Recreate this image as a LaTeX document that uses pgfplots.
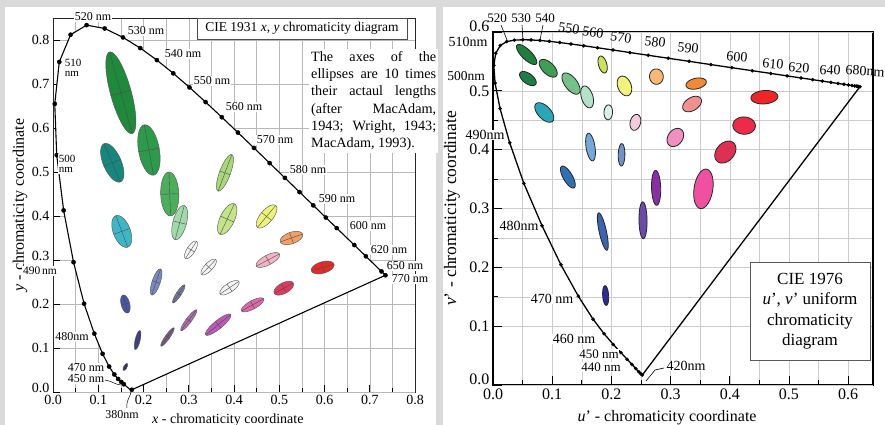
\documentclass[border=0pt]{standalone}
\usepackage{pgfplots}
\usepackage{pgfplotstable}
\pgfplotsset{compat=1.18}
\usepackage{fontspec}
\setmainfont{Liberation Serif}

\definecolor{bggray}{HTML}{DADADA}
% left panel ellipse colours
\definecolor{L1}{HTML}{252560}\definecolor{L2}{HTML}{3A3F88}\definecolor{L3}{HTML}{7E5A8C}
\definecolor{L4}{HTML}{1E8A3C}\definecolor{L5}{HTML}{16877E}\definecolor{L6}{HTML}{2B9A4A}
\definecolor{L7}{HTML}{4AAE5A}\definecolor{L8}{HTML}{3DB6C6}\definecolor{L9}{HTML}{A0DAAA}
\definecolor{L10}{HTML}{A8D878}\definecolor{L11}{HTML}{4656A6}\definecolor{L12}{HTML}{7A8AC0}
\definecolor{L13}{HTML}{F4F4F4}\definecolor{L14}{HTML}{C4E488}\definecolor{L15}{HTML}{EFF27A}
\definecolor{L16}{HTML}{F0A066}\definecolor{L17}{HTML}{F2B4C2}\definecolor{L18}{HTML}{E03A5C}
\definecolor{L19}{HTML}{E62A2A}\definecolor{L20}{HTML}{F4F4F4}\definecolor{L21}{HTML}{F4F4F4}
\definecolor{L22}{HTML}{E068A8}\definecolor{L23}{HTML}{747AA4}\definecolor{L24}{HTML}{B070B0}
\definecolor{L25}{HTML}{C058B8}
% right panel ellipse colours
\definecolor{R1}{HTML}{2A2A9A}\definecolor{R2}{HTML}{3C62B4}\definecolor{R3}{HTML}{6A4AAA}
\definecolor{R4}{HTML}{1F7F3F}\definecolor{R5}{HTML}{1F7D45}\definecolor{R6}{HTML}{3F9D55}
\definecolor{R7}{HTML}{74C28A}\definecolor{R8}{HTML}{2AA6B8}\definecolor{R9}{HTML}{B4E2C8}
\definecolor{R10}{HTML}{CFE05A}\definecolor{R11}{HTML}{2F70B4}\definecolor{R12}{HTML}{74A8D8}
\definecolor{R13}{HTML}{D6F0EA}\definecolor{R14}{HTML}{F2F27A}\definecolor{R15}{HTML}{F8B878}
\definecolor{R16}{HTML}{F08A36}\definecolor{R17}{HTML}{F29090}\definecolor{R18}{HTML}{EE2A48}
\definecolor{R19}{HTML}{F02424}\definecolor{R20}{HTML}{F2CCDC}\definecolor{R21}{HTML}{F090C0}
\definecolor{R22}{HTML}{E03052}\definecolor{R23}{HTML}{6C94C8}\definecolor{R24}{HTML}{8A2EA4}
\definecolor{R25}{HTML}{F050A0}

% CIE 1931 spectral locus (x, y)
\pgfplotstableread{
nm x y
380 0.1741 0.0050
390 0.1738 0.0049
400 0.1733 0.0048
410 0.1726 0.0048
420 0.1714 0.0051
430 0.1689 0.0069
440 0.1644 0.0109
445 0.1611 0.0138
450 0.1566 0.0177
455 0.1510 0.0227
460 0.1440 0.0297
465 0.1355 0.0399
470 0.1241 0.0578
475 0.1096 0.0868
480 0.0913 0.1327
485 0.0687 0.2007
490 0.0454 0.2950
495 0.0235 0.4127
500 0.0082 0.5384
505 0.0039 0.6548
510 0.0139 0.7502
515 0.0389 0.8120
520 0.0743 0.8338
525 0.1142 0.8262
530 0.1547 0.8059
535 0.1929 0.7816
540 0.2296 0.7543
545 0.2658 0.7243
550 0.3016 0.6923
555 0.3373 0.6589
560 0.3731 0.6245
565 0.4087 0.5896
570 0.4441 0.5547
575 0.4788 0.5202
580 0.5125 0.4866
585 0.5448 0.4544
590 0.5752 0.4242
595 0.6029 0.3965
600 0.6270 0.3725
605 0.6482 0.3514
610 0.6658 0.3340
620 0.6915 0.3083
630 0.7079 0.2920
640 0.7190 0.2809
650 0.7260 0.2740
660 0.7300 0.2700
680 0.7334 0.2666
770 0.7347 0.2653
}\locusL

\pgfplotstableread{
nm x y
380 0.1741 0.0050
450 0.1566 0.0177
455 0.1510 0.0227
460 0.1440 0.0297
465 0.1355 0.0399
470 0.1241 0.0578
475 0.1096 0.0868
480 0.0913 0.1327
485 0.0687 0.2007
490 0.0454 0.2950
495 0.0235 0.4127
500 0.0082 0.5384
505 0.0039 0.6548
510 0.0139 0.7502
515 0.0389 0.8120
520 0.0743 0.8338
525 0.1142 0.8262
530 0.1547 0.8059
535 0.1929 0.7816
540 0.2296 0.7543
545 0.2658 0.7243
550 0.3016 0.6923
555 0.3373 0.6589
560 0.3731 0.6245
565 0.4087 0.5896
570 0.4441 0.5547
575 0.4788 0.5202
580 0.5125 0.4866
585 0.5448 0.4544
590 0.5752 0.4242
595 0.6029 0.3965
600 0.6270 0.3725
610 0.6658 0.3340
620 0.6915 0.3083
650 0.7260 0.2740
770 0.7347 0.2653
}\marksL

% CIE 1976 spectral locus (u', v')
\pgfplotstableread{
nm u v
420 0.2522 0.0169
425 0.2496 0.0191
430 0.2461 0.0226
435 0.2411 0.0280
440 0.2347 0.0350
445 0.2266 0.0437
450 0.2161 0.0550
455 0.2033 0.0688
460 0.1877 0.0871
465 0.1690 0.1119
470 0.1441 0.1510
475 0.1147 0.2044
480 0.0828 0.2708
485 0.0521 0.3427
490 0.0282 0.4117
495 0.0119 0.4698
500 0.0035 0.5131
505 0.0014 0.5432
510 0.0046 0.5638
515 0.0123 0.5770
520 0.0231 0.5837
525 0.0360 0.5861
530 0.0501 0.5868
535 0.0643 0.5865
540 0.0792 0.5856
545 0.0953 0.5841
550 0.1127 0.5821
555 0.1319 0.5796
560 0.1531 0.5766
565 0.1766 0.5732
570 0.2026 0.5694
575 0.2312 0.5651
580 0.2623 0.5604
585 0.2960 0.5554
590 0.3315 0.5501
595 0.3681 0.5446
600 0.4035 0.5393
605 0.4379 0.5342
610 0.4692 0.5296
615 0.4968 0.5254
620 0.5203 0.5219
625 0.5399 0.5190
630 0.5565 0.5165
635 0.5709 0.5143
640 0.5830 0.5125
645 0.5929 0.5111
650 0.6005 0.5099
655 0.6064 0.5090
660 0.6109 0.5084
665 0.6138 0.5079
670 0.6162 0.5076
675 0.6180 0.5073
680 0.6199 0.5070
}\locusR

\pgfplotsset{
  ellfun/.style={declare function={
    ex(\ka,\kb,\kc,\kd,\ke)=\ka+0.01*(\kb*cos(\kd)*cos(\ke)-\kc*sin(\kd)*sin(\ke));
    ey(\ka,\kb,\kc,\kd,\ke)=\ka+0.01*(\kb*sin(\kd)*cos(\ke)+\kc*cos(\kd)*sin(\ke));
    uu(\ka,\kb)=4*\ka/(-2*\ka+12*\kb+3);
    vv(\ka,\kb)=9*\kb/(-2*\ka+12*\kb+3);
  }},
  ellL/.style={domain=0:360, samples=61, variable=\t, draw=black!65, line width=0.45pt},
  crossL/.style={domain=-1:1, samples=2, variable=\t, draw=black!70, line width=0.4pt},
  ellR/.style={domain=0:360, samples=61, variable=\t, draw=black!85, line width=0.8pt},
  numfmt/.style={/pgf/number format/.cd, fixed, fixed zerofill, precision=1, assume math mode=true, /pgfplots/.cd,
    xticklabel={\pgfmathprintnumber{\tick}}, yticklabel={\pgfmathprintnumber{\tick}}},
}
% x0, y0, a (1e-3), b (1e-3), theta (deg), colour
\newcommand{\ellXY}[6]{%
  \addplot[ellL, fill=#6] ({ex(#1,#3,#4,#5,\t)},{ey(#2,#3,#4,#5,\t)});
  \addplot[crossL] ({#1+0.01*#3*cos(#5)*\t},{#2+0.01*#3*sin(#5)*\t});
  \addplot[crossL] ({#1-0.01*#4*sin(#5)*\t},{#2+0.01*#4*cos(#5)*\t});
}
\newcommand{\ellUV}[6]{%
  \addplot[ellR, fill=#6] ({uu(ex(#1,#3,#4,#5,\t),ey(#2,#3,#4,#5,\t))},{vv(ex(#1,#3,#4,#5,\t),ey(#2,#3,#4,#5,\t))});
}

\begin{document}
\begin{tikzpicture}
\useasboundingbox (0pt,0pt) rectangle (885pt,425pt);
\fill[bggray] (0pt,0pt) rectangle (885pt,425pt);
\fill[white] (5pt,0pt) rectangle (436pt,418pt);
\fill[white] (443pt,0pt) rectangle (885pt,418pt);

% ---------------- left: CIE 1931 ----------------
\begin{axis}[ellfun, numfmt,
  at={(53pt,33pt)}, anchor=south west, scale only axis,
  width=362pt, height=374pt,
  xmin=0, xmax=0.8, ymin=0, ymax=0.85,
  xtick={0,0.1,0.2,0.3,0.4,0.5,0.6,0.7,0.8},
  ytick={0.1,0.2,0.4,0.5,0.6,0.7,0.8},
  extra y ticks={0,0.3},
  extra y tick style={grid=major, yticklabel style={yshift=4pt}},
  minor tick num=1,
  tick align=inside, xtick pos=bottom, ytick pos=left,
  major tick length=7pt, minor tick length=4pt,
  tick style={black, line width=0.6pt},
  grid=both,
  major grid style={black!28, line width=0.4pt},
  minor grid style={black!28, line width=0.4pt},
  axis line style={black!85, line width=0.8pt},
  tick label style={font=\fontsize{14}{16}\selectfont},
  xlabel={\textit{x} - chromaticity coordinate},
  ylabel={\textit{y} - chromaticity coordinate},
  xlabel style={at={(axis description cs:0.483,-0.074)}, anchor=center, font=\fontsize{14}{16}\selectfont},
  ylabel style={at={(axis description cs:-0.091,0.5)}, anchor=center, font=\fontsize{16}{18}\selectfont},
]
\addplot[fill=white, draw=none] table[x=x, y=y] {\locusL} -- cycle;
\ellXY{0.160}{0.057}{0.85}{0.35}{62.5}{L1}
\ellXY{0.187}{0.118}{2.2}{0.55}{77.0}{L2}
\ellXY{0.253}{0.125}{2.5}{0.50}{55.5}{L3}
\ellXY{0.150}{0.680}{9.6}{2.3}{105.0}{L4}
\ellXY{0.131}{0.521}{4.7}{2.0}{112.5}{L5}
\ellXY{0.212}{0.550}{5.8}{2.3}{100.0}{L6}
\ellXY{0.258}{0.450}{5.0}{2.0}{92.0}{L7}
\ellXY{0.152}{0.365}{3.8}{1.9}{110.0}{L8}
\ellXY{0.280}{0.385}{4.0}{1.5}{75.5}{L9}
\ellXY{0.380}{0.498}{4.4}{1.2}{70.0}{L10}
\ellXY{0.160}{0.200}{2.1}{0.95}{104.0}{L11}
\ellXY{0.228}{0.250}{3.1}{0.90}{72.0}{L12}
\ellXY{0.305}{0.323}{2.3}{0.90}{58.0}{L13}
\ellXY{0.385}{0.393}{3.8}{1.6}{65.5}{L14}
\ellXY{0.472}{0.399}{3.2}{1.4}{51.0}{L15}
\ellXY{0.527}{0.350}{2.6}{1.3}{20.0}{L16}
\ellXY{0.475}{0.300}{2.9}{1.1}{28.5}{L17}
\ellXY{0.510}{0.236}{2.4}{1.2}{29.5}{L18}
\ellXY{0.596}{0.283}{2.6}{1.3}{17.0}{L19}
\ellXY{0.344}{0.284}{2.3}{0.90}{47.0}{L20}
\ellXY{0.390}{0.237}{2.5}{1.0}{34.5}{L21}
\ellXY{0.441}{0.198}{2.8}{0.95}{29.5}{L22}
\ellXY{0.278}{0.223}{2.4}{0.55}{57.5}{L23}
\ellXY{0.300}{0.163}{2.9}{0.60}{54.0}{L24}
\ellXY{0.365}{0.153}{3.6}{0.95}{40.0}{L25}
\addplot[black, line width=1.1pt] table[x=x, y=y] {\locusL} -- cycle;
\addplot[only marks, mark=*, mark size=2.1pt, black] table[x=x, y=y] {\marksL};
\end{axis}

% ---------------- right: CIE 1976 ----------------
\begin{axis}[ellfun, numfmt,
  at={(493pt,40pt)}, anchor=south west, scale only axis,
  width=380pt, height=353pt,
  xmin=0, xmax=0.642, ymin=0, ymax=0.6,
  xtick={0,0.1,0.2,0.3,0.4,0.5,0.6},
  ytick={0.1,0.2,0.3,0.4,0.5},
  extra y ticks={0,0.6},
  extra y tick style={grid=major, yticklabel style={yshift=6pt}},
  minor tick num=1,
  tick align=inside, xtick pos=bottom, ytick pos=left,
  major tick length=9pt, minor tick length=5pt,
  tick style={black, line width=0.8pt},
  grid=both,
  major grid style={black!20, line width=0.4pt},
  minor grid style={black!20, line width=0.4pt},
  axis line style={black, line width=1.3pt},
  tick label style={font=\fontsize{16}{18}\selectfont},
  xlabel={\textit{u}' - chromaticity coordinate},
  ylabel={\textit{v}' - chromaticity coordinate},
  xlabel style={at={(axis description cs:0.458,-0.093)}, anchor=center, font=\fontsize{16}{18}\selectfont},
  ylabel style={at={(axis description cs:-0.108,0.5)}, anchor=center, font=\fontsize{17.5}{19}\selectfont},
]
\ellUV{0.160}{0.057}{0.85}{0.35}{62.5}{R1}
\ellUV{0.187}{0.118}{2.2}{0.55}{77.0}{R2}
\ellUV{0.253}{0.125}{2.5}{0.50}{55.5}{R3}
\ellUV{0.150}{0.680}{9.6}{2.3}{105.0}{R4}
\ellUV{0.131}{0.521}{4.7}{2.0}{112.5}{R5}
\ellUV{0.212}{0.550}{5.8}{2.3}{100.0}{R6}
\ellUV{0.258}{0.450}{5.0}{2.0}{92.0}{R7}
\ellUV{0.152}{0.365}{3.8}{1.9}{110.0}{R8}
\ellUV{0.280}{0.385}{4.0}{1.5}{75.5}{R9}
\ellUV{0.380}{0.498}{4.4}{1.2}{70.0}{R10}
\ellUV{0.160}{0.200}{2.1}{0.95}{104.0}{R11}
\ellUV{0.228}{0.250}{3.1}{0.90}{72.0}{R12}
\ellUV{0.305}{0.323}{2.3}{0.90}{58.0}{R13}
\ellUV{0.385}{0.393}{3.8}{1.6}{65.5}{R14}
\ellUV{0.472}{0.399}{3.2}{1.4}{51.0}{R15}
\ellUV{0.527}{0.350}{2.6}{1.3}{20.0}{R16}
\ellUV{0.475}{0.300}{2.9}{1.1}{28.5}{R17}
\ellUV{0.510}{0.236}{2.4}{1.2}{29.5}{R18}
\ellUV{0.596}{0.283}{2.6}{1.3}{17.0}{R19}
\ellUV{0.344}{0.284}{2.3}{0.90}{47.0}{R20}
\ellUV{0.390}{0.237}{2.5}{1.0}{34.5}{R21}
\ellUV{0.441}{0.198}{2.8}{0.95}{29.5}{R22}
\ellUV{0.278}{0.223}{2.4}{0.55}{57.5}{R23}
\ellUV{0.300}{0.163}{2.9}{0.60}{54.0}{R24}
\ellUV{0.365}{0.153}{3.6}{0.95}{40.0}{R25}
\addplot[black, line width=1.3pt] table[x=u, y=v] {\locusR} -- cycle;
\addplot[only marks, mark=*, mark size=1.6pt, black] table[x=u, y=v] {\locusR};
\end{axis}

% ---------- left annotations ----------
\node[draw=black!70, fill=white, line width=0.5pt, minimum width=210pt, minimum height=21pt, inner sep=0pt,
      font=\fontsize{13.5}{15}\selectfont] at (302pt,396.5pt) {CIE 1931 \textit{x}, \textit{y} chromaticity diagram};
\node[anchor=north west, fill=white, inner sep=2pt, align=left, font=\fontsize{14.2}{17.3}\selectfont] at (309pt,376pt)
  {\makebox[125pt][s]{The axes of the}\\
   \makebox[125pt][s]{ellipses are 10 times}\\
   \makebox[125pt][s]{their actaul lengths}\\
   \makebox[125pt][s]{(after MacAdam,}\\
   \makebox[125pt][s]{1943; Wright, 1943;}\\
   MacAdam, 1993).};
\begin{scope}[every node/.style={font=\fontsize{12}{12}\selectfont, fill=white, inner sep=1pt}]
\node at (93pt,408pt) {520 nm};
\node at (146pt,394pt) {530 nm};
\node at (183pt,371pt) {540 nm};
\node at (212pt,344pt) {550 nm};
\node at (244pt,318pt) {560 nm};
\node at (275pt,285pt) {570 nm};
\node at (308pt,255pt) {580 nm};
\node at (337pt,226pt) {590 nm};
\node at (368pt,199pt) {600 nm};
\node at (389pt,175pt) {620 nm};
\node at (405pt,159pt) {650 nm};
\node at (410pt,146pt) {770 nm};
\node[align=left, font=\fontsize{11}{10}\selectfont] at (73pt,357pt) {510\\nm};
\node[align=left, font=\fontsize{11}{10}\selectfont] at (67pt,261pt) {500\\nm};
\node[font=\fontsize{11.5}{12}\selectfont] at (40pt,154pt) {490\,nm};
\node at (72pt,88pt) {480nm};
\node at (86pt,57pt) {470 nm};
\node at (86pt,46pt) {450 nm};
\node at (122pt,10pt) {380nm};
\end{scope}
\draw[black, line width=0.5pt] (127pt,17pt) .. controls (126pt,25pt) and (130pt,27pt) .. (131pt,33pt);
\draw[black, line width=0.5pt] (105pt,45pt) .. controls (112pt,44pt) and (116pt,40pt) .. (121pt,40pt);

% ---------- right annotations ----------
\node[draw=black!65, fill=white, line width=0.6pt, minimum width=120pt, minimum height=98pt, align=center,
      inner sep=0pt, font=\fontsize{17}{20.5}\selectfont] at (810pt,114pt)
  {CIE 1976\\\textit{u}', \textit{v}' uniform\\chromaticity\\diagram};
\begin{scope}[every node/.style={font=\fontsize{14}{15}\selectfont, inner sep=0.5pt}]
\node[font=\fontsize{13}{14}\selectfont] at (497pt,407pt) {520};
\node[font=\fontsize{13}{14}\selectfont] at (521pt,407pt) {530};
\node[font=\fontsize{13}{14}\selectfont] at (545pt,407pt) {540};
\node[rotate=-8] at (569pt,397pt) {550};
\node[rotate=-8] at (593pt,393pt) {560};
\node[rotate=-8] at (621pt,388pt) {570};
\node[rotate=-6] at (655pt,383pt) {580};
\node[rotate=-6] at (688pt,377pt) {590};
\node[rotate=-5] at (737pt,368pt) {600};
\node[rotate=-5] at (773pt,361pt) {610};
\node[rotate=-4] at (799pt,357pt) {620};
\node[rotate=-3] at (830pt,355pt) {640};
\node[anchor=west, rotate=-3] at (845pt,355pt) {680nm};
\node[fill=white] at (468pt,383pt) {510nm};
\node[fill=white, font=\fontsize{13.5}{14}\selectfont] at (466pt,349pt) {500nm};
\node[fill=white] at (485pt,290pt) {490nm};
\node[fill=white] at (519pt,199pt) {480nm};
\node[fill=white] at (552pt,126pt) {470 nm};
\node[fill=white] at (574pt,86pt) {460 nm};
\node[fill=white, font=\fontsize{13}{13}\selectfont] at (599pt,71pt) {450 nm};
\node[fill=white, font=\fontsize{13}{13}\selectfont] at (601pt,58pt) {440 nm};
\node[fill=white] at (686pt,59pt) {420nm};
\end{scope}
\draw[black, line width=0.6pt] (501pt,400pt) -- (507pt,385pt);
\draw[black, line width=0.6pt] (522pt,400pt) -- (523pt,385pt);
\draw[black, line width=0.6pt] (543pt,400pt) -- (540pt,385pt);
\draw[black, line width=0.6pt] (664pt,57pt) -- (655pt,55pt) -- (646pt,44pt);
\end{tikzpicture}
\end{document}
